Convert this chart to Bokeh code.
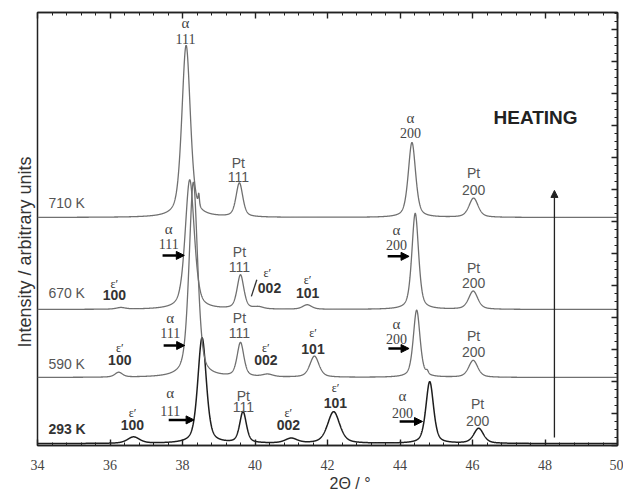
import numpy as np
from bokeh.plotting import figure
from bokeh.models import (Range1d, LinearAxis, SingleIntervalTicker, Label, Arrow,
                          NormalHead, ColumnDataSource, Title)
from bokeh.embed import file_html
from bokeh.resources import INLINE

# ---------------- data ----------------
x_start, x_end = 34, 50
y_start, y_end = 0, 13.53

temperatures = ["293 K", "590 K", "670 K", "710 K"]
baselines = [0.06, 2.125, 4.25, 7.125]

# peaks: position 2θ (°), height (a.u.), FWHM (°)
pos_293 = [36.65, 38.54, 39.67, 41.00, 42.17, 44.82, 46.17]
hgt_293 = [0.20, 3.30, 0.97, 0.15, 0.99, 1.93, 0.47]
fwhm_293 = [0.40, 0.28, 0.22, 0.40, 0.40, 0.25, 0.32]

pos_590 = [36.24, 38.30, 39.60, 40.35, 41.64, 44.46, 44.75, 46.02]
hgt_590 = [0.15, 6.10, 1.06, 0.08, 0.66, 2.10, 0.10, 0.53]
fwhm_590 = [0.25, 0.28, 0.22, 0.35, 0.30, 0.22, 0.08, 0.30]

pos_670 = [36.30, 38.20, 39.60, 40.10, 41.44, 44.42, 46.02]
hgt_670 = [0.05, 4.05, 1.06, 0.06, 0.14, 3.00, 0.57]
fwhm_670 = [0.30, 0.30, 0.22, 0.30, 0.30, 0.22, 0.30]

pos_710 = [38.10, 38.45, 39.57, 44.33, 46.03]
hgt_710 = [5.375, 0.35, 1.06, 2.34, 0.60]
fwhm_710 = [0.28, 0.04, 0.22, 0.24, 0.30]

peaks = {
    "293 K": (pos_293, hgt_293, fwhm_293),
    "590 K": (pos_590, hgt_590, fwhm_590),
    "670 K": (pos_670, hgt_670, fwhm_670),
    "710 K": (pos_710, hgt_710, fwhm_710),
}
eta = 0.5  # pseudo-Voigt mixing


def profile(x, pos, hgt, fwhm):
    y = np.zeros_like(x)
    for x0, h, w in zip(pos, hgt, fwhm):
        u = (x - x0) / (w / 2.0)
        y += h * (eta / (1 + u ** 2) + (1 - eta) * np.exp(-np.log(2) * u ** 2))
    return y


two_theta = np.linspace(x_start, x_end, 3201)

# ---------------- figure ----------------
p = figure(frame_width=580, frame_height=433, output_backend="svg",
           toolbar_location=None, x_range=Range1d(x_start, x_end),
           y_range=Range1d(y_start, y_end),
           min_border_left=37, min_border_right=6, min_border_top=12,
           min_border_bottom=47, x_axis_location=None, y_axis_location=None)
p.grid.visible = False
p.outline_line_color = "#222222"
p.outline_line_width = 1.5
p.background_fill_color = "white"
p.border_fill_color = "white"

axis_col = "#222222"


def make_axis(interval, minor, labels):
    ax = LinearAxis(ticker=SingleIntervalTicker(interval=interval, num_minor_ticks=minor))
    ax.major_tick_in = 6
    ax.major_tick_out = 0
    ax.minor_tick_in = 3
    ax.minor_tick_out = 0
    ax.axis_line_color = axis_col
    ax.axis_line_width = 1.5
    ax.major_tick_line_color = axis_col
    ax.minor_tick_line_color = axis_col
    ax.major_tick_line_width = 1.4
    if labels:
        ax.major_label_text_font = "Liberation Serif"
        ax.major_label_text_font_size = "14px"
        ax.major_label_text_color = "#444444"
        ax.major_label_standoff = 14
    else:
        ax.major_label_text_font_size = "0px"
        ax.major_label_text_color = None
        ax.major_label_standoff = 0
    return ax


p.add_layout(make_axis(2, 5, True), "below")
p.add_layout(make_axis(2, 5, False), "above")
p.add_layout(make_axis(1, 4, False), "right")

# axis titles
p.add_layout(Title(text="2Θ / °", align="left", offset=292, standoff=0,
                   text_font="Liberation Sans", text_font_size="16px",
                   text_font_style="normal", text_color="#333333"), "below")
p.add_layout(Title(text="Intensity / arbitrary units", align="left", offset=98,
                   standoff=6, text_font="Liberation Sans", text_font_size="18px",
                   text_font_style="normal", text_color="#333333"), "left")

# ---------------- curves ----------------
line_colors = {"293 K": "#1e1e1e", "590 K": "#707070", "670 K": "#707070", "710 K": "#707070"}
for temp, base in zip(temperatures, baselines):
    pos, hgt, fwhm = peaks[temp]
    src = ColumnDataSource(dict(x=two_theta, y=base + profile(two_theta, pos, hgt, fwhm)))
    p.line("x", "y", source=src, line_color=line_colors[temp],
           line_width=1.5 if temp == "293 K" else 1.3)


# ---------------- annotations ----------------
def txt(s, x, y, size=13, font="Liberation Sans", bold=False, color="#555555",
        align="center", angle=0.0):
    p.add_layout(Label(x=x, y=y, text=s, text_font=font, text_font_size=f"{size}px",
                       text_font_style="bold" if bold else "normal", text_color=color,
                       text_align=align, text_baseline="middle", angle=angle))


def alpha(x, y1, y2, hkl):
    txt("α", x, y1, size=15, font="Liberation Serif", color="#444444")
    txt(hkl, x, y2, size=14, font="Liberation Serif", color="#444444")


def pt(x, y1, y2, hkl):
    txt("Pt", x, y1, size=14, color="#555555")
    txt(hkl, x, y2, size=14, color="#555555")


def eps(x, y1, y2, hkl):
    txt("ε′", x, y1, size=12, font="Liberation Serif", color="#333333")
    txt(hkl, x, y2, size=14, bold=True, color="#333333")


def harrow(x0, x1, y):
    p.add_layout(Arrow(x_start=x0, y_start=y, x_end=x1, y_end=y, line_width=2.5,
                       line_color="black",
                       end=NormalHead(size=8, fill_color="black", line_color="black")))


# temperature labels
txt("710 K", 34.30, 7.59, align="left", size=14, color="#555555")
txt("670 K", 34.30, 4.75, align="left", size=14, color="#555555")
txt("590 K", 34.30, 2.56, align="left", size=14, color="#555555")
txt("293 K", 34.30, 0.53, align="left", size=14, bold=True, color="#333333")

# 710 K
alpha(38.08, 13.19, 12.69, "111")
pt(39.54, 8.84, 8.38, "111")
alpha(44.29, 10.22, 9.75, "200")
pt(46.03, 8.50, 7.97, "200")

# 670 K
alpha(37.62, 6.75, 6.31, "111")
harrow(37.45, 38.05, 5.94)
pt(39.57, 6.06, 5.59, "111")
txt("ε′", 40.34, 5.375, size=12, font="Liberation Serif", color="#333333")
txt("002", 40.40, 4.91, size=14, bold=True, color="#333333")
p.add_layout(Arrow(x_start=39.90, y_start=4.66, x_end=40.05, y_end=5.18, end=None,
                   line_color="#333333", line_width=1.3))
eps(41.45, 5.16, 4.75, "101")
eps(36.12, 5.06, 4.69, "100")
alpha(43.90, 6.72, 6.25, "200")
harrow(43.66, 44.25, 5.91)
pt(46.03, 5.56, 5.09, "200")

# 590 K
alpha(37.66, 3.97, 3.50, "111")
harrow(37.48, 38.06, 3.125)
pt(39.57, 3.97, 3.50, "111")
eps(40.30, 3.06, 2.66, "002")
eps(41.60, 3.50, 3.03, "101")
eps(36.27, 3.06, 2.66, "100")
alpha(43.90, 3.81, 3.34, "200")
harrow(43.68, 44.25, 3.03)
pt(46.03, 3.41, 2.91, "200")

# 293 K
eps(36.62, 1.03, 0.625, "100")
alpha(37.66, 1.625, 1.09, "111")
harrow(37.62, 38.32, 0.80)
pt(39.68, 1.55, 1.19, "111")
eps(40.92, 1.03, 0.625, "002")
eps(42.22, 1.81, 1.34, "101")
alpha(44.07, 1.56, 1.03, "200")
harrow(43.99, 44.62, 0.75)
pt(46.14, 1.31, 0.78, "200")

# heating
txt("HEATING", 47.74, 10.25, size=19, bold=True, color="#222222")
p.add_layout(Arrow(x_start=48.26, y_start=0.25, x_end=48.26, y_end=7.97,
                   line_width=1.3, line_color="#222222",
                   end=NormalHead(size=7, fill_color="#222222", line_color="#222222")))

open("out.html", "w").write(file_html(p, INLINE))
